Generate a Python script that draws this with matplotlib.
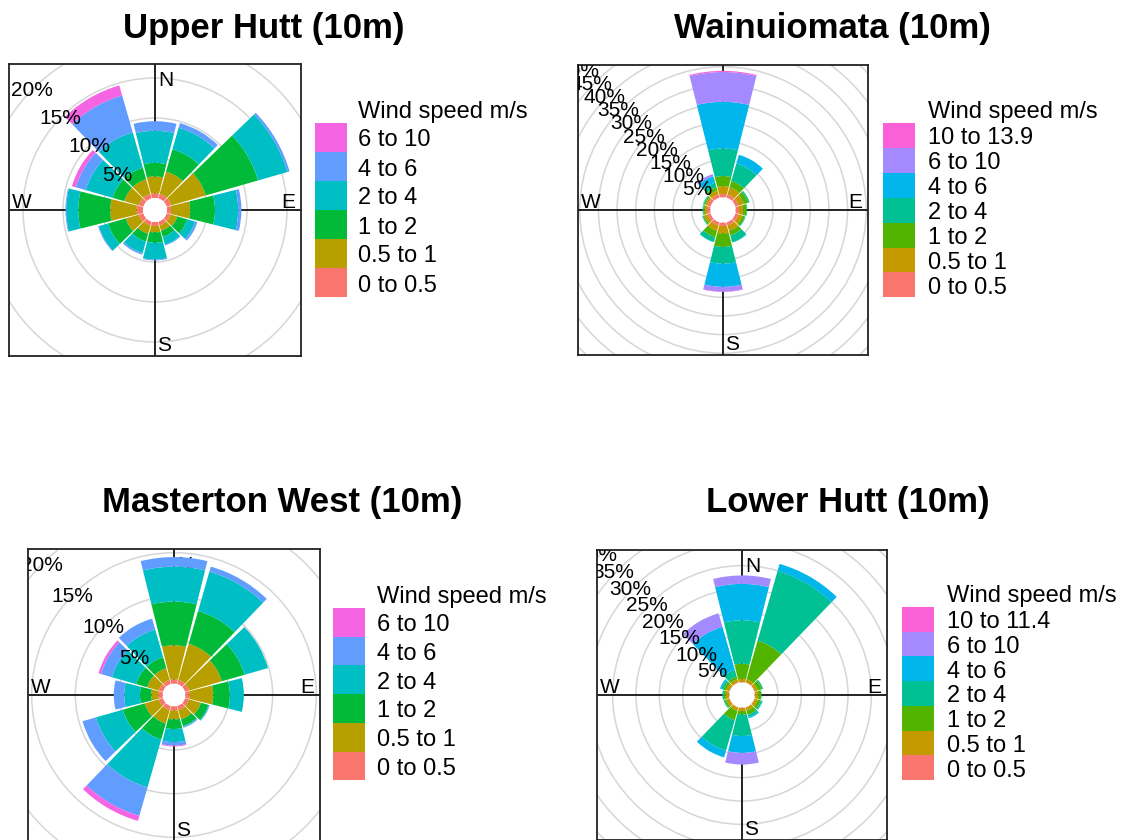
import numpy as np
import matplotlib
matplotlib.use("Agg")
import matplotlib.pyplot as plt
from matplotlib.patches import Wedge, Circle

plt.rcParams['font.family'] = ['Liberation Sans', 'DejaVu Sans']

# wind directions (degrees from north) and frequency (%) per speed bin
directions = [0, 30, 60, 90, 120, 150, 180, 210, 240, 270, 300, 330]

bins_6 = ["0 to 0.5", "0.5 to 1", "1 to 2", "2 to 4", "4 to 6", "6 to 10"]
wai_bins = ["0 to 0.5", "0.5 to 1", "1 to 2", "2 to 4", "4 to 6", "6 to 10", "10 to 13.9"]
low_bins = ["0 to 0.5", "0.5 to 1", "1 to 2", "2 to 4", "4 to 6", "6 to 10", "10 to 11.4"]

upper_hutt = [
    [0.6, 2.1, 1.7, 4.0, 1.2, 0.0],
    [0.6, 2.9, 2.9, 2.8, 0.6, 0.0],
    [0.6, 4.5, 6.8, 3.8, 0.3, 0.0],
    [0.5, 2.4, 3.1, 2.9, 0.4, 0.0],
    [0.5, 0.9, 1.3, 1.0, 0.3, 0.0],
    [0.5, 0.7, 0.8, 1.0, 0.1, 0.0],
    [0.5, 0.8, 1.3, 2.1, 0.1, 0.0],
    [0.5, 1.1, 1.0, 1.5, 0.2, 0.0],
    [0.6, 1.7, 2.3, 1.2, 0.1, 0.0],
    [0.8, 3.3, 4.0, 1.5, 0.1, 0.0],
    [0.6, 1.9, 1.5, 3.5, 1.3, 0.5],
    [0.6, 1.9, 1.5, 4.6, 4.8, 1.3],
]

wainuiomata = [
    [0.9, 2.1, 2.7, 7.4, 12.5, 8.0, 0.3],
    [0.9, 2.0, 1.8, 4.9, 2.4, 0.0, 0.0],
    [0.9, 1.5, 1.2, 0.4, 0.0, 0.0, 0.0],
    [0.9, 1.1, 0.9, 0.2, 0.0, 0.0, 0.0],
    [0.9, 1.1, 0.7, 0.2, 0.0, 0.0, 0.0],
    [0.9, 1.5, 1.3, 1.9, 0.1, 0.0, 0.0],
    [0.9, 2.0, 3.6, 4.5, 6.2, 1.3, 0.1],
    [0.9, 1.5, 1.8, 1.3, 0.1, 0.0, 0.0],
    [0.9, 0.9, 0.4, 0.2, 0.0, 0.0, 0.0],
    [0.9, 0.6, 0.4, 0.2, 0.0, 0.0, 0.0],
    [0.9, 0.6, 0.4, 0.2, 0.1, 0.0, 0.0],
    [0.9, 1.1, 0.9, 1.3, 1.8, 0.6, 0.0],
]

masterton_west = [
    [0.5, 3.9, 5.0, 4.0, 1.1, 0.0],
    [0.5, 4.3, 3.9, 4.7, 0.6, 0.0],
    [0.5, 3.9, 2.7, 2.8, 0.0, 0.0],
    [0.5, 2.7, 1.9, 1.6, 0.0, 0.0],
    [0.5, 1.4, 0.9, 0.1, 0.05, 0.0],
    [0.5, 1.1, 0.8, 0.1, 0.1, 0.0],
    [0.5, 1.0, 1.1, 1.5, 0.4, 0.1],
    [0.5, 1.6, 1.9, 5.7, 3.4, 0.6],
    [0.5, 1.7, 2.6, 3.2, 1.6, 0.0],
    [0.5, 0.8, 1.3, 1.8, 1.2, 0.0],
    [0.5, 1.4, 1.3, 2.9, 1.3, 0.3],
    [0.5, 1.4, 1.3, 3.3, 1.3, 0.0],
]

lower_hutt = [
    [0.1, 0.7, 3.2, 9.3, 7.8, 1.8, 0.0],
    [0.1, 0.7, 8.6, 15.5, 1.6, 0.0, 0.0],
    [0.1, 0.7, 0.9, 0.3, 0.0, 0.0, 0.0],
    [0.1, 0.7, 0.6, 0.1, 0.0, 0.0, 0.0],
    [0.1, 0.7, 0.7, 0.3, 0.1, 0.0, 0.0],
    [0.1, 0.7, 0.9, 0.5, 0.3, 0.0, 0.0],
    [0.1, 0.7, 0.7, 4.6, 3.6, 2.5, 0.0],
    [0.1, 0.7, 2.1, 6.8, 1.5, 0.0, 0.0],
    [0.1, 0.7, 0.4, 0.2, 0.0, 0.0, 0.0],
    [0.1, 0.7, 0.4, 0.3, 0.0, 0.0, 0.0],
    [0.1, 0.7, 0.6, 0.5, 0.3, 0.0, 0.0],
    [0.1, 0.7, 0.6, 1.5, 9.6, 3.0, 0.0],
]

# highest percentage ring that gets a label
label_max = {"upper": 20, "wai": 50, "mast": 20, "lower": 40}

hue6 = ["#F8766D", "#B79F00", "#00BA38", "#00BFC4", "#619CFF", "#F564E3"]
hue7 = ["#F8766D", "#C49A00", "#53B400", "#00C094", "#00B6EB", "#A58AFF", "#FB61D7"]

W, H = 1131, 840
fig = plt.figure(figsize=(W / 100, H / 100), dpi=100)


def fig_rect(x0, y0, x1, y1):
    return [x0 / W, 1 - y1 / H, (x1 - x0) / W, (y1 - y0) / H]


def draw_rose(box, px_per_pct, hole, freq, labels, colours, title, title_xy,
              key_xy, key_h, text_x, lab_shift, lab_max):
    ax = fig.add_axes(fig_rect(*box))
    R = (box[2] - box[0]) / 2 / px_per_pct
    ax.set_xlim(-R, R)
    ax.set_ylim(-R, R)
    ax.set_xticks([])
    ax.set_yticks([])
    for sp in ax.spines.values():
        sp.set_linewidth(1.3)
        sp.set_color("#222222")

    # grid circles
    for p in range(5, 80, 5):
        ax.add_patch(Circle((0, 0), hole + p, fill=False, ec="#d6d6d6",
                            lw=1.1, zorder=1))
    ax.axhline(0, color="#222222", lw=1.4, zorder=2)
    ax.axvline(0, color="#222222", lw=1.4, zorder=2)

    comp = dict(fontsize=15, textcoords="offset pixels", zorder=2,
                annotation_clip=False)
    ax.annotate("N", (0, R), xytext=(3, -22), ha="left", va="baseline", **comp)
    ax.annotate("S", (0, -R), xytext=(2, 5), ha="left", va="baseline", **comp)
    ax.annotate("E", (R, 0), xytext=(-6, 2), ha="right", va="baseline", **comp)
    ax.annotate("W", (-R, 0), xytext=(3, 2), ha="left", va="baseline", **comp)

    # stacked wedges
    half = 14
    for d, row in zip(directions, freq):
        cum = np.concatenate([[0], np.cumsum(row)])
        for j, col in enumerate(colours):
            if row[j] <= 0:
                continue
            inner, outer = hole + cum[j], hole + cum[j + 1]
            ax.add_patch(Wedge((0, 0), outer, 90 - d - half, 90 - d + half,
                               width=outer - inner, fc=col, ec="none", zorder=3))
    ax.add_patch(Circle((0, 0), hole, fc="white", ec="none", zorder=3))

    # percentage labels along 315 degrees
    ang = np.deg2rad(135)
    for p in range(5, lab_max + 1, 5):
        r = hole + p
        ax.annotate(f"{p}%", (r * np.cos(ang), r * np.sin(ang)),
                    xytext=lab_shift, textcoords="offset pixels",
                    fontsize=15, ha="center", va="center", zorder=5,
                    annotation_clip=False, clip_on=True)

    fig.text(title_xy[0] / W, 1 - title_xy[1] / H, title, fontsize=25,
             fontweight="bold", ha="center", va="baseline")

    # legend: colour keys stacked top (fastest) to bottom (calmest)
    n = len(colours)
    kx, ky = key_xy
    lax = fig.add_axes(fig_rect(kx, ky, kx + 32, ky + n * key_h))
    lax.barh(np.arange(n), np.ones(n), height=1.0, color=colours[::-1])
    lax.set_xlim(0, 1)
    lax.set_ylim(n - 0.5, -0.5)
    lax.axis("off")
    for i, lab in enumerate(labels[::-1]):
        base = ky + (i + 0.5) * key_h + 9
        fig.text(text_x / W, 1 - base / H, lab, fontsize=17,
                 ha="left", va="baseline")
    fig.text(text_x / W, 1 - (ky - 5) / H, "Wind speed m/s",
             fontsize=17, ha="left", va="baseline")
    return ax


draw_rose((9, 64, 301, 356), 8.0, 1.5, upper_hutt, bins_6, hue6,
          "Upper Hutt (10m)", (264, 38), (315, 123), 29.0, 358, (-1, -2),
          label_max["upper"])
draw_rose((578, 65, 868, 355), 3.73, 3.4, wainuiomata, wai_bins, hue7,
          "Wainuiomata (10m)", (832, 38), (883, 123), 24.9, 928, (-4, -2),
          label_max["wai"])
draw_rose((28, 549, 320, 841), 8.73, 1.3, masterton_west, bins_6, hue6,
          "Masterton West (10m)", (282, 512), (333, 608), 28.7, 377, (-1, -2),
          label_max["mast"])
draw_rose((597, 550, 887, 840), 4.67, 2.7, lower_hutt, low_bins, hue7,
          "Lower Hutt (10m)", (848, 512), (902, 607), 24.7, 947, (-4, -2),
          label_max["lower"])

fig.savefig("out.png", dpi=100)
